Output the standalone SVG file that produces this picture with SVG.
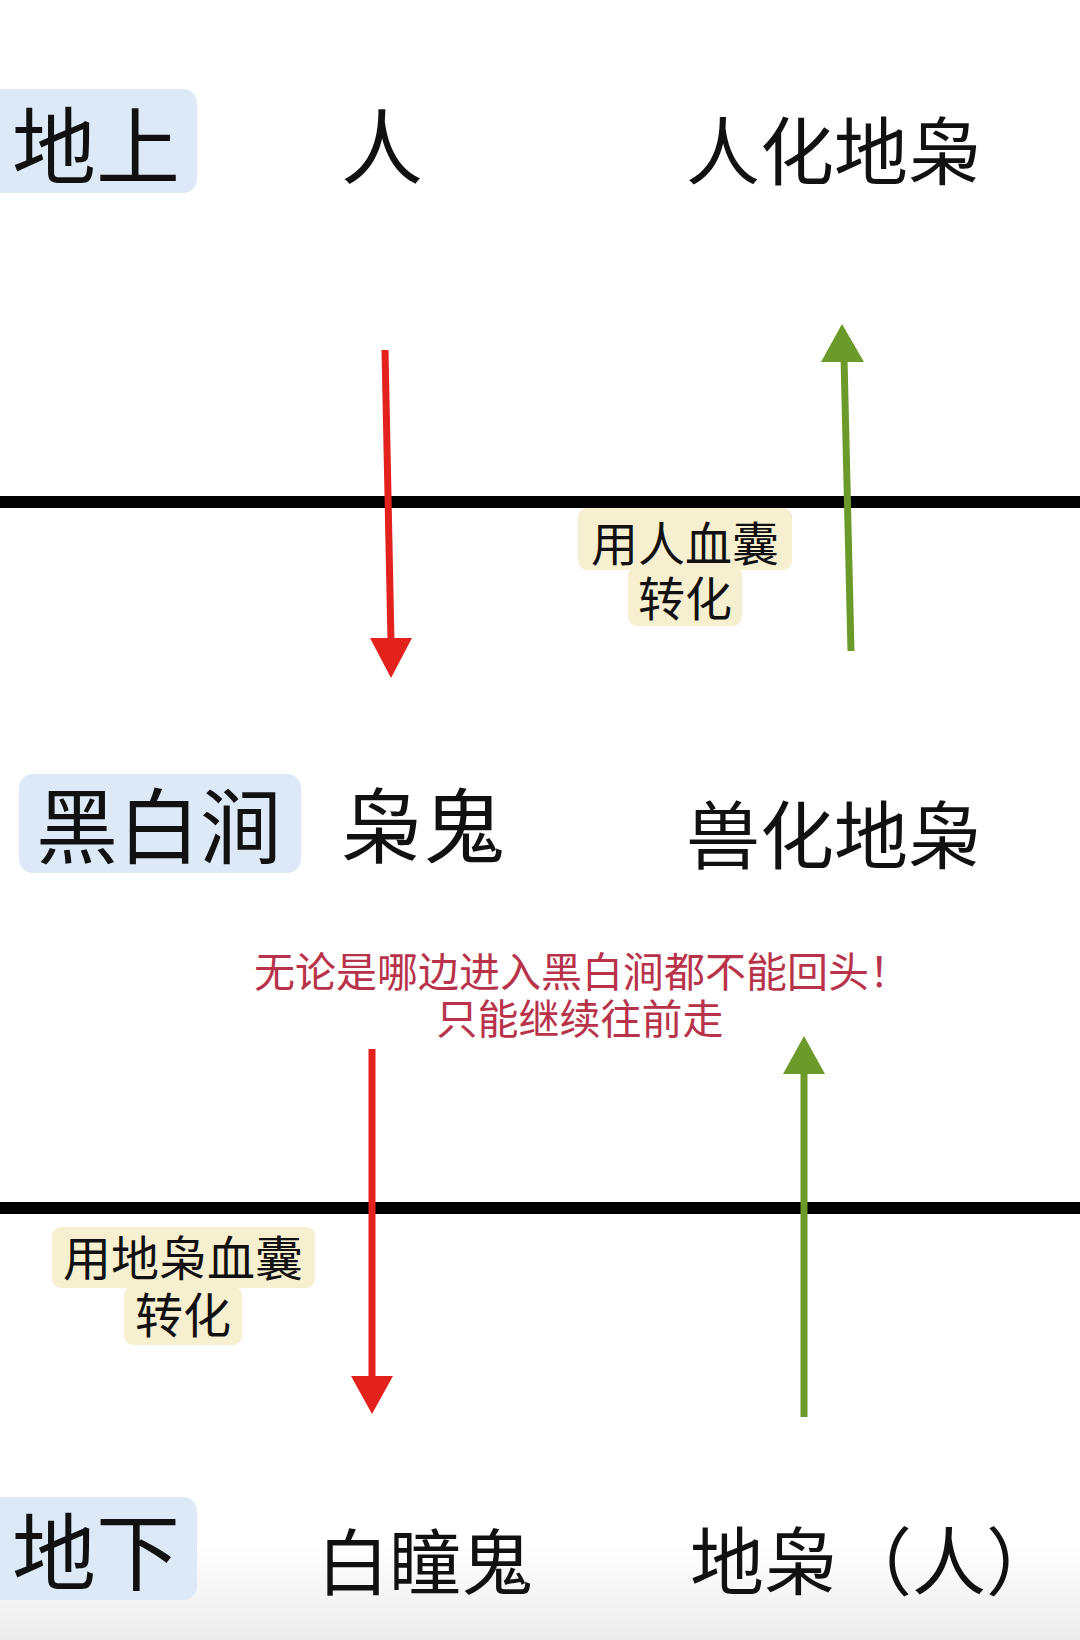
<svg xmlns="http://www.w3.org/2000/svg" width="1080" height="1640" viewBox="0 0 1080 1640">
<style>
text{font-family:"Noto Sans CJK SC","Noto Sans",sans-serif;fill:#111}
.big{font-size:82px}
.mid{font-size:74px}
.lbl{font-size:47px}
.warn{font-size:41px;fill:#b8334a}
.zone{fill:#dde9f7}
.note{fill:#f6efd0}
.red{stroke:#e3221d;stroke-width:7;fill:none}
.green{stroke:#6b9a2a;stroke-width:7;fill:none}
.redh{fill:#e3221d}
.greenh{fill:#6b9a2a}
.div{stroke:#000;stroke-width:12}
</style>
<defs>
<linearGradient id="fade" x1="0" y1="0" x2="0" y2="1">
<stop offset="0" stop-color="#ffffff"/>
<stop offset="1" stop-color="#ececec"/>
</linearGradient>
</defs>
<rect width="1080" height="1640" fill="#fff"/>
<rect x="0" y="1545" width="1080" height="95" fill="url(#fade)"/>

<g id="connectors">
<line class="div" x1="0" y1="502" x2="1080" y2="502"/>
<line class="div" x1="0" y1="1208" x2="1080" y2="1208"/>
<line class="red" x1="385" y1="350" x2="391" y2="642"/>
<polygon class="redh" points="370,638 412,638 391,678"/>
<line class="green" x1="851" y1="651" x2="844" y2="358"/>
<polygon class="greenh" points="821,362 864,362 842,324"/>
<line class="red" x1="372" y1="1049" x2="372" y2="1380"/>
<polygon class="redh" points="351,1376 393,1376 372,1414"/>
<line class="green" x1="804" y1="1417" x2="804" y2="1070"/>
<polygon class="greenh" points="783,1074 825,1074 804,1036"/>
</g>

<g id="zone-top">
<rect class="zone" x="-14" y="89" width="211" height="104" rx="14"/>
<text class="big" x="12" y="178" style="font-size:84px">地上</text>
</g>
<g id="node-ren">
<text class="big" x="382" y="178" text-anchor="middle">人</text>
</g>
<g id="node-renhua">
<text class="mid" x="834" y="179" text-anchor="middle">人化地枭</text>
</g>

<g id="label-renxuenang">
<rect class="note" x="578" y="508" width="214" height="62" rx="9"/>
<rect class="note" x="628" y="566" width="114" height="60" rx="9"/>
<text class="lbl" text-anchor="middle"><tspan x="685" y="561">用人血囊</tspan><tspan x="685" y="616">转化</tspan></text>
</g>

<g id="zone-mid">
<rect class="zone" x="19" y="774" width="282" height="99" rx="14"/>
<text class="big" x="36" y="857">黑白涧</text>
</g>
<g id="node-xiaogui">
<text class="big" x="341" y="857">枭鬼</text>
</g>
<g id="node-shouhua">
<text class="mid" x="834" y="863" text-anchor="middle">兽化地枭</text>
</g>

<g id="warning">
<text class="warn"><tspan x="254" y="987">无论是哪边进入黑白涧都不能回头！</tspan><tspan x="580" y="1034" text-anchor="middle">只能继续往前走</tspan></text>
</g>

<g id="label-dixiaoxuenang">
<rect class="note" x="52" y="1227" width="263" height="61" rx="9"/>
<rect class="note" x="124" y="1286" width="118" height="59" rx="9"/>
<text class="lbl" text-anchor="middle" style="font-size:48px"><tspan x="183" y="1276">用地枭血囊</tspan><tspan x="183" y="1333">转化</tspan></text>
</g>

<g id="zone-bottom">
<rect class="zone" x="-14" y="1497" width="211" height="103" rx="14"/>
<text class="big" x="12" y="1584" style="font-size:84px">地下</text>
</g>
<g id="node-baitonggui">
<text class="big" x="317" y="1589" style="font-size:72px">白瞳鬼</text>
</g>
<g id="node-dixiao">
<text class="big" x="690" y="1589" style="font-size:74px">地枭（人）</text>
</g>
</svg>
